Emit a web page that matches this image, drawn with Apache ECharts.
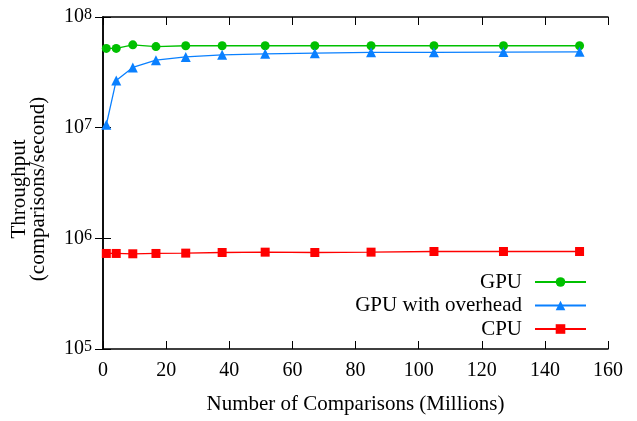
<!DOCTYPE html>
<html><head><meta charset="utf-8">
<script src="https://cdn.jsdelivr.net/npm/echarts@6/dist/echarts.min.js"></script>
<style>html,body{margin:0;padding:0;background:#fff}#c{width:637px;height:421px}</style>
</head><body><div id="c"></div>
<script>
const comparisons = [1.05, 4.19, 9.44, 16.78, 26.21, 37.75, 51.38, 67.11, 84.93, 104.86, 126.88, 150.99];
const gpu = [5.2e7, 5.2e7, 5.6e7, 5.4e7, 5.5e7, 5.5e7, 5.5e7, 5.5e7, 5.5e7, 5.5e7, 5.5e7, 5.5e7];
const gpuOverhead = [1.06e7, 2.67e7, 3.5e7, 4.07e7, 4.36e7, 4.55e7, 4.65e7, 4.71e7, 4.8e7, 4.8e7, 4.82e7, 4.85e7];
const cpu = [7.3e5, 7.3e5, 7.25e5, 7.3e5, 7.35e5, 7.45e5, 7.5e5, 7.45e5, 7.5e5, 7.6e5, 7.6e5, 7.6e5];
const seriesNames = ['GPU', 'GPU with overhead', 'CPU'];
const xTicks = [0, 20, 40, 60, 80, 100, 120, 140, 160];

const font = 'Liberation Serif';
const pair = (ys) => comparisons.map((x, i) => [x, ys[i]]);
const chart = echarts.init(document.getElementById('c'), null, {renderer: 'canvas'});
const axisLine = {show: true, lineStyle: {color: '#000', width: 1.5}};
const tick = {show: true, inside: true, length: 8, lineStyle: {color: '#000', width: 1}};
chart.setOption({
  animation: false,
  backgroundColor: '#fff',
  grid: {left: 103, right: 29, top: 17, bottom: 72, containLabel: false},
  xAxis: [{
    type: 'value', min: xTicks[0], max: xTicks[xTicks.length - 1], interval: 20,
    position: 'bottom',
    axisLine, axisTick: tick, splitLine: {show: false},
    axisLabel: {color: '#000', fontFamily: font, fontSize: 20, margin: 12},
    name: 'Number of Comparisons (Millions)', nameLocation: 'middle', nameGap: 45,
    nameTextStyle: {color: '#000', fontFamily: font, fontSize: 21}
  }, {
    type: 'value', min: xTicks[0], max: xTicks[xTicks.length - 1], interval: 20,
    position: 'top', axisLine, axisTick: tick, splitLine: {show: false}, axisLabel: {show: false}
  }],
  yAxis: [{
    type: 'log', logBase: 10, min: 1e5, max: 1e8, position: 'left',
    axisLine, axisTick: tick, splitLine: {show: false}, minorTick: {show: false},
    axisLabel: {
      margin: 11,
      formatter: (v) => '{b|10}{s|' + Math.round(Math.log10(v)) + '}',
      rich: {
        b: {fontFamily: font, fontSize: 20, color: '#000'},
        s: {fontFamily: font, fontSize: 16, color: '#000', verticalAlign: 'bottom', padding: [0, 0, 5, 0]}
      }
    },
    name: 'Throughput\n(comparisons/second)', nameLocation: 'middle', nameGap: 55, nameRotate: 90,
    nameTextStyle: {color: '#000', fontFamily: font, fontSize: 21, lineHeight: 19, padding: [0, 12, 0, 0]}
  }, {
    type: 'log', logBase: 10, min: 1e5, max: 1e8, position: 'right',
    axisLine, axisTick: tick, splitLine: {show: false}, axisLabel: {show: false}
  }],
  legend: {
    orient: 'vertical', right: 45, top: 266.5, align: 'right',
    itemWidth: 51, itemHeight: 12, itemGap: 2.5,
    textStyle: {fontFamily: font, fontSize: 21, color: '#000', padding: [0, 8, 0, 0]},
    data: seriesNames
  },
  series: [
    {name: seriesNames[0], type: 'line', data: pair(gpu), symbol: 'circle', symbolSize: 9,
     color: '#00c000', lineStyle: {width: 1.3}},
    {name: seriesNames[1], type: 'line', data: pair(gpuOverhead), symbol: 'triangle', symbolSize: 10,
     color: '#0a80ff', lineStyle: {width: 1.3}},
    {name: seriesNames[2], type: 'line', data: pair(cpu), symbol: 'rect', symbolSize: 9,
     color: '#ff0000', lineStyle: {width: 1.3}}
  ]
});
</script></body></html>
